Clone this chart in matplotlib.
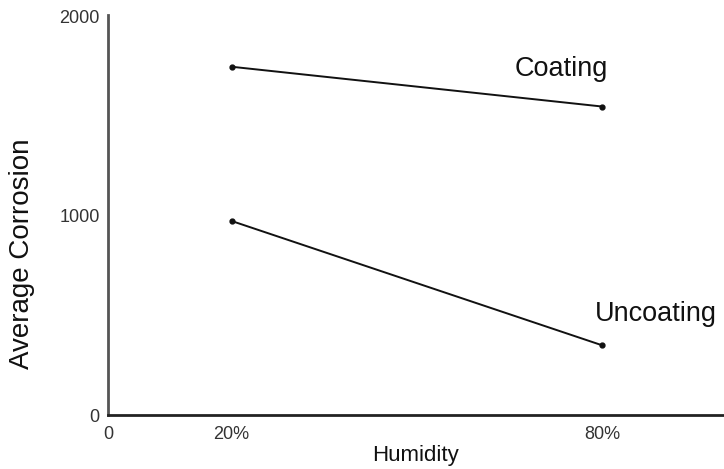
import matplotlib
matplotlib.use("Agg")
import matplotlib.pyplot as plt

humidity = [20, 80]
coating = [1750, 1550]
uncoating = [975, 350]
xticks = [0, 20, 80]
xtick_labels = ["0", "20%", "80%"]
yticks = [0, 1000, 2000]
ytick_labels = ["0", "1000", "2000"]

plt.rcParams['font.family'] = ['Liberation Sans', 'DejaVu Sans']

fig = plt.figure(figsize=(7.24, 4.69), dpi=100)
ax = fig.add_axes([108/724, 54/469, 1 - 108/724, 400/469])

ax.plot(humidity, coating, color='#111111', lw=1.4, marker='o', ms=3.5)
ax.plot(humidity, uncoating, color='#111111', lw=1.4, marker='o', ms=3.5)

ax.set_xlim(0, 99.7)
ax.set_ylim(0, 2010)
ax.set_xticks(xticks)
ax.set_xticklabels(xtick_labels)
ax.set_yticks(yticks)
ax.set_yticklabels(ytick_labels)
ax.tick_params(length=0, labelsize=13, colors='#333333')
ax.tick_params(axis='y', pad=6)
ax.tick_params(axis='x', pad=8)

for s in ['top', 'right']:
    ax.spines[s].set_visible(False)
ax.spines['left'].set_color('#555555')
ax.spines['left'].set_linewidth(2)
ax.spines['bottom'].set_color('#222222')
ax.spines['bottom'].set_linewidth(2)

ax.text(73.3, 1740, "Coating", fontsize=19.5, ha='center', va='center', color='#111111')
ax.text(88.6, 510, "Uncoating", fontsize=19.5, ha='center', va='center', color='#111111')

fig.text(415/724, 1 - 455/469, "Humidity", fontsize=16, ha='center', va='center', color='#111111')
fig.text(22/724, 1 - 254/469, "Average Corrosion", fontsize=20, ha='center', va='center',
         rotation=90, color='#111111')

fig.savefig("out.png", dpi=100)
